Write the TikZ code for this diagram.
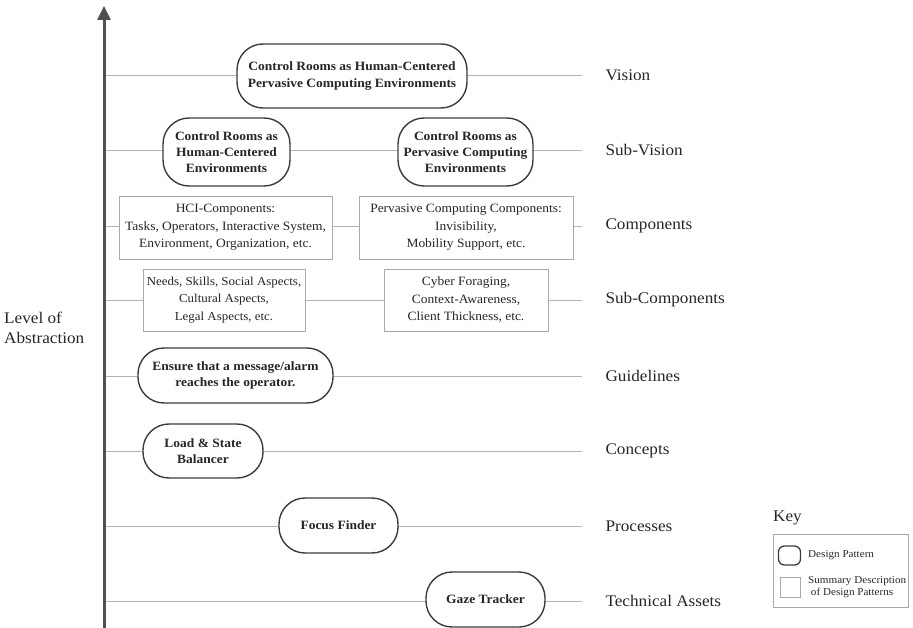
\documentclass[tikz,border=0pt]{standalone}
\usepackage{fontspec}
\setmainfont[FakeStretch=1.06]{Liberation Serif}
\usetikzlibrary{arrows.meta}
\definecolor{axisc}{HTML}{505050}
\definecolor{linec}{HTML}{B4B4B4}
\definecolor{boxc}{HTML}{A8A8A8}
\definecolor{patc}{HTML}{3C3C3C}
\definecolor{txt}{HTML}{262626}
\tikzset{
  pattern/.style={draw=patc, line width=1.4pt, fill=white, rounded corners=26pt, align=center,
    font=\fontsize{12.7}{16}\selectfont\bfseries, text=txt, inner sep=0pt},
  summary/.style={draw=boxc, line width=0.9pt, fill=white, align=center,
    font=\fontsize{12.7}{17.5}\selectfont, text=txt, inner sep=0pt},
  level/.style={anchor=west, font=\fontsize{16.2}{18}\selectfont, text=txt},
  hline/.style={draw=linec, line width=0.9pt},
}
\begin{document}
\begin{tikzpicture}[x=1pt,y=-1pt]
\useasboundingbox (0,0) rectangle (913,628);
% horizontal level lines
\foreach \n/\y in {1/75,2/150,3/226,4/300,5/376,6/451,7/526,8/601}{
  \coordinate (L\n) at (104,\y);
  \coordinate (R\n) at (582,\y);
  \draw[hline] (L\n) -- (R\n);
}
% axis
\coordinate (axb) at (104,628);
\coordinate (axt) at (104,6);
\draw[draw=axisc, line width=3pt, -{Triangle[length=14pt,width=13pt]}] (axb) -- (axt);
\node[anchor=west, align=left, font=\fontsize{16.2}{19.5}\selectfont, text=txt, inner sep=0pt] (loa) at (4,328) {Level of\\Abstraction};
% patterns
\node[pattern, minimum width=230pt, minimum height=64pt, font=\fontsize{12.7}{17}\selectfont\bfseries] (vis) at (352,76) {Control Rooms as Human-Centered\\Pervasive Computing Environments};
\node[pattern, minimum width=127pt, minimum height=68pt] (sv1) at (226.5,152) {Control Rooms as\\Human-Centered\\Environments};
\node[pattern, minimum width=135pt, minimum height=68pt] (sv2) at (465.5,152) {Control Rooms as\\Pervasive Computing\\Environments};
\node[summary, minimum width=213pt, minimum height=63pt] (c1) at (225.5,227.5) {HCI-Components:\\Tasks, Operators, Interactive System,\\Environment, Organization, etc.};
\node[summary, minimum width=214pt, minimum height=63pt] (c2) at (466,227.5) {Pervasive Computing Components:\\Invisibility,\\Mobility Support, etc.};
\node[summary, minimum width=162pt, minimum height=62pt, font=\fontsize{12.2}{17.5}\selectfont] (s1) at (224,300) {Needs, Skills, Social Aspects,\\Cultural Aspects,\\Legal Aspects, etc.};
\node[summary, minimum width=164pt, minimum height=62pt] (s2) at (466,300) {Cyber Foraging,\\Context-Awareness,\\Client Thickness, etc.};
\node[pattern, minimum width=195pt, minimum height=55pt] (g) at (235.5,375.5) {Ensure that a message/alarm\\reaches the operator.};
\node[pattern, minimum width=120pt, minimum height=54pt] (con) at (203,451) {Load \& State\\Balancer};
\node[pattern, minimum width=119pt, minimum height=55pt] (pro) at (338.5,525.5) {Focus Finder};
\node[pattern, minimum width=119pt, minimum height=55pt] (ta) at (485.5,599.5) {Gaze Tracker};
% level labels
\node[level] (lv1) at (602,75) {Vision};
\node[level] (lv2) at (602,150) {Sub-Vision};
\node[level] (lv3) at (602,226) {Components};
\node[level] (lv4) at (602,300) {Sub-Components};
\node[level] (lv5) at (602,376) {Guidelines};
\node[level] (lv6) at (602,451) {Concepts};
\node[level] (lv7) at (602,526) {Processes};
\node[level] (lv8) at (602,601) {Technical Assets};
% key
\node[anchor=west, font=\fontsize{16.2}{18}\selectfont, text=txt, inner sep=0pt] (keyt) at (773,518) {Key};
\node[draw=boxc, line width=0.9pt, minimum width=135pt, minimum height=73pt, inner sep=0pt] (keyb) at (840.5,570.5) {};
\node[draw=patc, line width=1.3pt, rounded corners=6pt, minimum width=22pt, minimum height=19pt, inner sep=0pt] (kp) at (789.5,555.5) {};
\node[draw=boxc, line width=0.8pt, minimum width=20pt, minimum height=20pt, inner sep=0pt] (ks) at (790,587) {};
\node[anchor=west, font=\fontsize{10.5}{12}\selectfont, text=txt, inner sep=0pt] (kpt) at (808,555) {Design Pattern};
\node[anchor=west, align=left, font=\fontsize{10.5}{12}\selectfont, text=txt, inner sep=0pt] (kst) at (808,587) {Summary Description\\\ of Design Patterns};
\end{tikzpicture}
\end{document}
